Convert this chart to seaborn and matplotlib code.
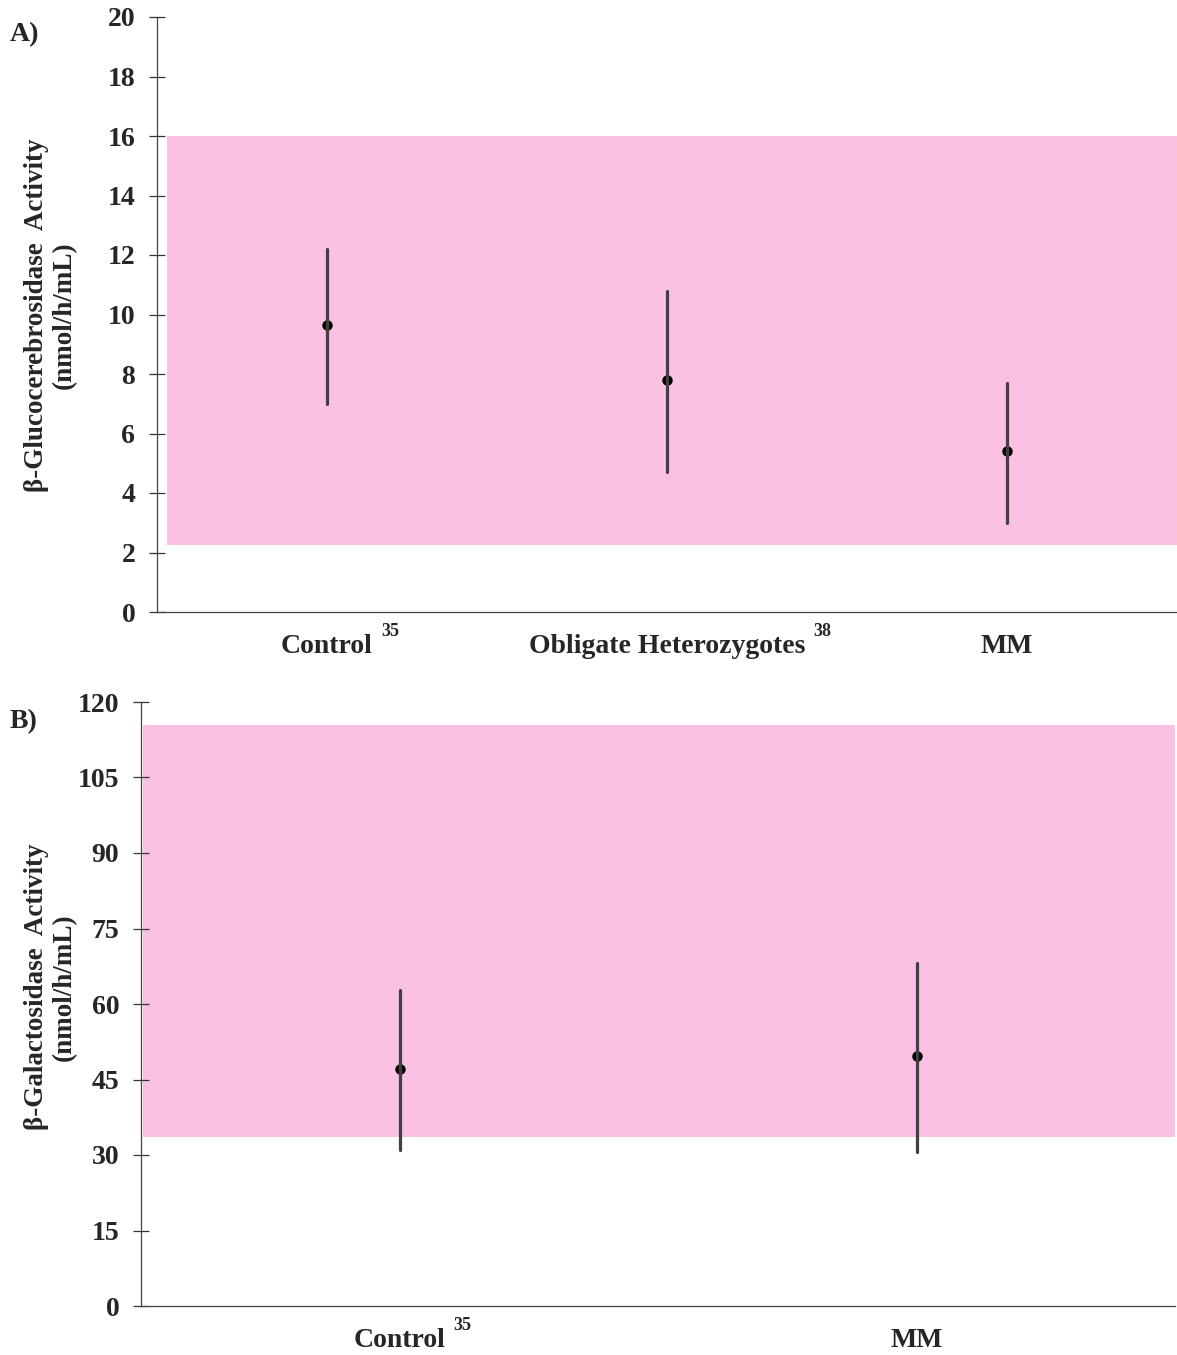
import numpy as np
import pandas as pd
import matplotlib
matplotlib.use("Agg")
import matplotlib.pyplot as plt
import seaborn as sns

# ---- data ----
cats_a = ["Control", "Obligate Heterozygotes", "MM"]
sup_a = ["35", "38", ""]
mean_a = [9.65, 7.8, 5.4]
low_a = [7.0, 4.7, 3.0]
high_a = [12.2, 10.8, 7.7]
ref_a = [2.25, 16.0]
yticks_a = [0, 2, 4, 6, 8, 10, 12, 14, 16, 18, 20]

cats_b = ["Control", "MM"]
sup_b = ["35", ""]
mean_b = [47.1, 49.6]
low_b = [31.0, 30.6]
high_b = [62.8, 68.1]
ref_b = [33.6, 115.4]
yticks_b = [0, 15, 30, 45, 60, 75, 90, 105, 120]

sns.set_theme(style="white")
plt.rcParams["font.family"] = ["Liberation Serif", "DejaVu Serif"]
plt.rcParams["font.weight"] = "bold"

PINK = "#FAC1E3"
FS = 20

fig = plt.figure(figsize=(11.77, 13.55), dpi=100)
W, H = 1177, 1355
axA = fig.add_axes([157 / W, 1 - 612 / H, (1177 - 157) / W, (612 - 17) / H])
axB = fig.add_axes([141 / W, 1 - 1306 / H, (1175 - 141) / W, (1306 - 702) / H])


def long_df(cats, lo, mid, hi):
    rows = []
    for c, l, m, h in zip(cats, lo, mid, hi):
        for v in (l, m, h):
            rows.append({"group": c, "value": v})
    return pd.DataFrame(rows)


def panel(ax, cats, lo, mid, hi, ref, yticks, ylabel, tag, tag_y, ylab_y, band_x0):
    df = long_df(cats, lo, mid, hi)
    ax.axhspan(ref[0], ref[1], xmin=band_x0, xmax=1.0, color=PINK, lw=0, zorder=0)
    sns.pointplot(data=df, x="group", y="value", order=cats, estimator="median",
                  errorbar=("pi", 100), linestyle="none", marker="o",
                  color="black", markersize=5.5, ax=ax,
                  err_kws={"color": "#404040", "linewidth": 2.3})
    ax.set_xlim(-0.5, len(cats) - 0.5)
    ax.set_ylim(yticks[0], yticks[-1])
    ax.set_yticks(yticks)
    ax.set_yticklabels([str(t) for t in yticks], fontsize=FS, fontweight="bold")
    ax.set_xticks(range(len(cats)))
    ax.set_xticklabels(cats, fontsize=FS, fontweight="bold")
    ax.tick_params(axis="y", direction="inout", length=12.2, width=0.9,
                   color="#333333", pad=9.5, left=True)
    ax.tick_params(axis="x", length=0, pad=15.5)
    for s in ("top", "right"):
        ax.spines[s].set_visible(False)
    for s in ("left", "bottom"):
        ax.spines[s].set_color("#444444")
        ax.spines[s].set_linewidth(0.9)
    ax.set_xlabel("")
    ax.set_ylabel("")
    ax.set_facecolor("none")
    fig.text(10 / W, 1 - tag_y / H, tag, fontsize=FS, fontweight="bold",
             ha="left", va="center")
    fig.text(50 / W, 1 - ylab_y / H, ylabel, rotation=90, fontsize=19.5,
             fontweight="bold", ha="center", va="center", multialignment="center",
             linespacing=1.15)


panel(axA, cats_a, low_a, mean_a, high_a, ref_a, yticks_a,
      "\u03b2-Glucocerebrosidase  Activity\n(nmol/h/mL)", "A)", 35, 315, 0.0098)
panel(axB, cats_b, low_b, mean_b, high_b, ref_b, yticks_b,
      "\u03b2-Galactosidase  Activity\n(nmol/h/mL)", "B)", 722, 987, 0.002)

fig.canvas.draw()
for ax, sups in ((axA, sup_a), (axB, sup_b)):
    for lab, s in zip(ax.get_xticklabels(), sups):
        if not s:
            continue
        bb = lab.get_window_extent()
        fig.text((bb.x1 + 8) / W, (bb.y1 + 11) / H, s, fontsize=13,
                 fontweight="bold", ha="left", va="top")

fig.savefig("out.png", dpi=100)
